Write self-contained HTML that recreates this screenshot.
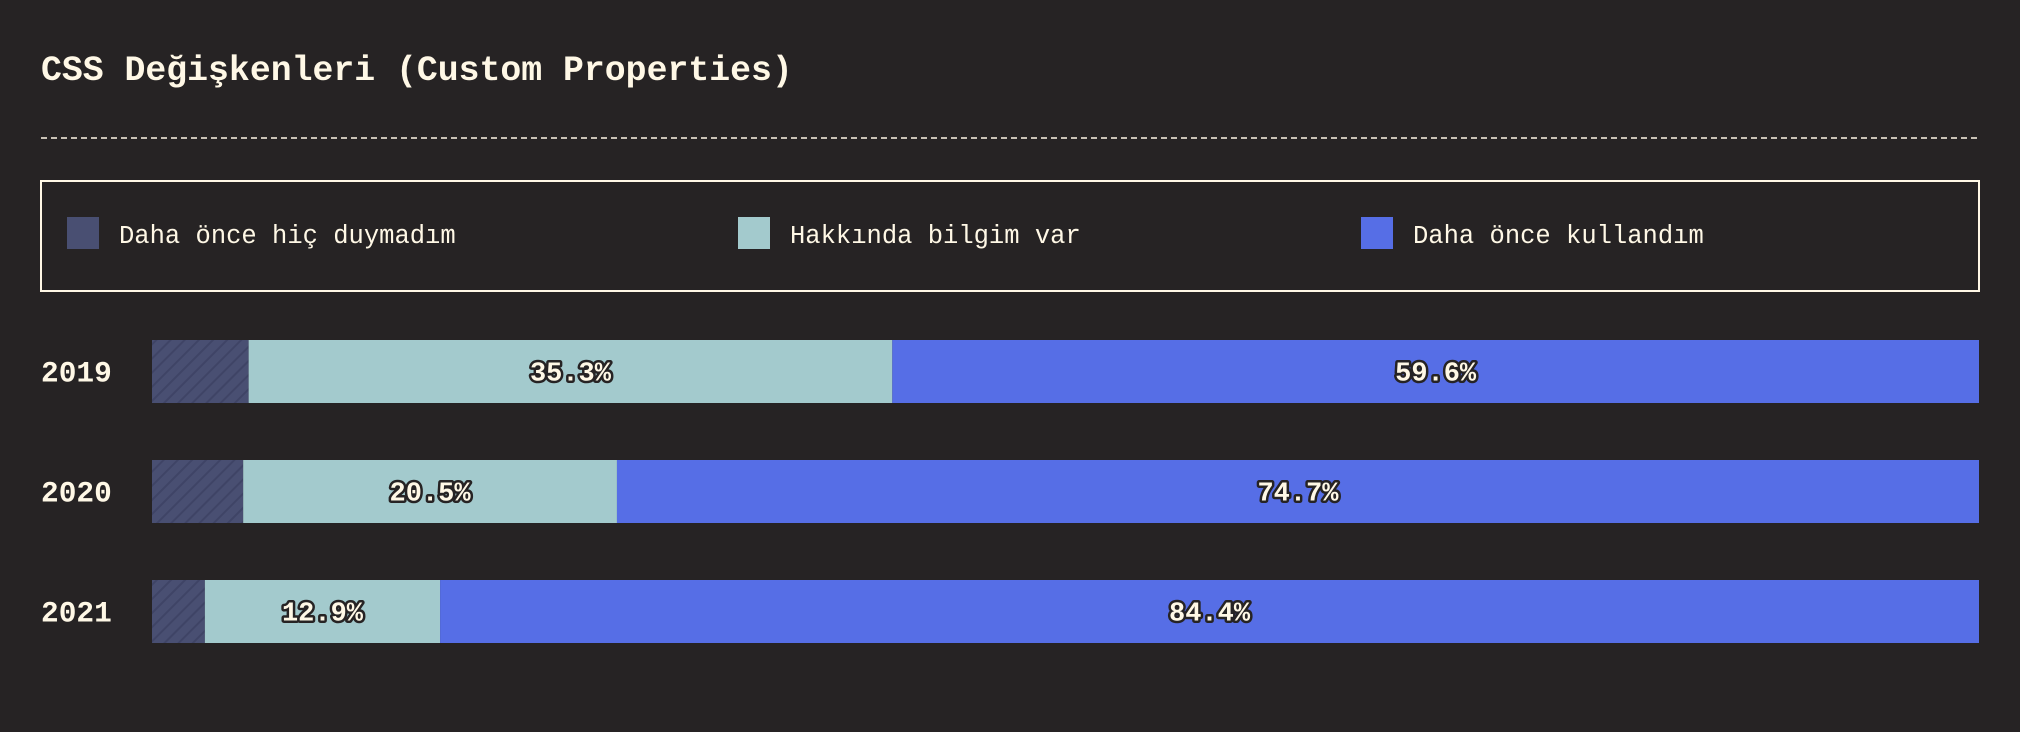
<!DOCTYPE html>
<html><head><meta charset="utf-8"><style>
html,body{margin:0;padding:0;background:#262324;width:2020px;height:732px;overflow:hidden}
svg{display:block}
text{font-family:"Liberation Mono",monospace}
</style></head><body>
<svg id="chart" width="2020" height="732">
<defs>
<pattern id="stripes" width="10" height="10" patternUnits="userSpaceOnUse" patternTransform="rotate(45)">
<rect width="10" height="10" fill="#494f72"/>
<line x1="0" y1="0" x2="0" y2="10" stroke="#3f4466" stroke-width="4"/>
</pattern>
</defs>
<text x="41" y="80" font-size="34.8" font-weight="bold" fill="#fff8e6">CSS Değişkenleri (Custom Properties)</text>
<line x1="41" y1="138" x2="1979" y2="138" stroke="#fff8e6" stroke-width="1.5" stroke-dasharray="6,4"/>
<rect x="41" y="181" width="1938" height="110" fill="none" stroke="#fff8e6" stroke-width="2"/>
<g id="legend"></g>
<g id="bars"></g>
</svg>
<script>
const years = ["2019","2020","2021"];
const neverHeard = [5.3, 5.0, 2.9];
const knowAbout = [35.3, 20.5, 12.9];
const used = [59.6, 74.7, 84.4];
const seriesNames = ["Daha önce hiç duymadım","Hakkında bilgim var","Daha önce kullandım"];

const NS="http://www.w3.org/2000/svg";
const colors=["url(#stripes)","#a3cacd","#566ee6"];
const legendColors=["#494f72","#a3cacd","#566ee6"];
const x0=152, x1=1979, barH=63, rowTop=340, pitch=120;
function mk(t,a){const e=document.createElementNS(NS,t);for(const k in a)e.setAttribute(k,a[k]);return e;}
const lg=document.getElementById('legend');
const legX=[67,738,1361];
seriesNames.forEach((n,i)=>{
  const s=mk('rect',{x:legX[i],y:217,width:32,height:32,fill:legendColors[i]});
  
  
  lg.appendChild(s);
  const t=mk('text',{x:legX[i]+52,y:243,'font-size':'25.5',fill:'#fff8e6'});
  t.textContent=n;
  
  
  lg.appendChild(t);
});
const g=document.getElementById('bars');
const series=[neverHeard,knowAbout,used];
years.forEach((y,r)=>{
  const top=rowTop+r*pitch;
  const yl=mk('text',{x:41,y:top+barH/2+10,'font-size':'29.5','font-weight':'bold',fill:'#fff8e6'});
  yl.textContent=y;
  
  
  g.appendChild(yl);
  const total=series.reduce((a,s)=>a+s[r],0);
  let acc=0;
  series.forEach((s,i)=>{
    const xs=x0+(acc/total)*(x1-x0);
    const w=(s[r]/total)*(x1-x0);
    acc+=s[r];
    const b=mk('rect',{x:xs,y:top,width:w,height:barH,fill:colors[i]});
    
    
    g.appendChild(b);
    if(i>0){
      const t=mk('text',{x:xs+w/2,y:top+barH/2+9,'font-size':'27','font-weight':'bold',fill:'#fff8e6','text-anchor':'middle',stroke:'#262324','stroke-width':'5','paint-order':'stroke','stroke-linejoin':'round'});
      t.textContent=s[r].toFixed(1)+'%';
      
      
      g.appendChild(t);
    }
  });
});
</script>
</body></html>
